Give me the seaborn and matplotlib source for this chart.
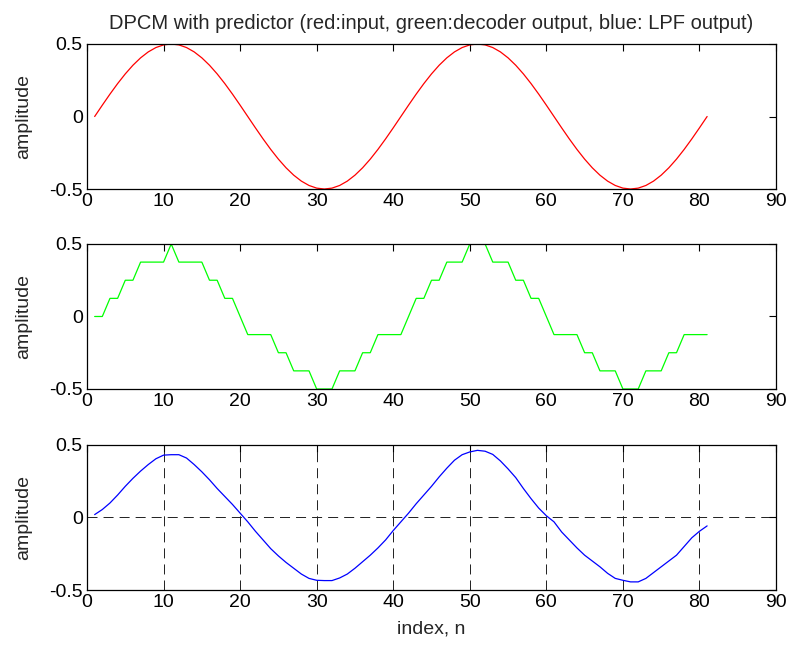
import matplotlib
matplotlib.use("Agg")
import matplotlib.pyplot as plt
import seaborn as sns
import pandas as pd

n = list(range(1, 82))

red_input = [
    0.0, 0.0782, 0.1545, 0.2270, 0.2939, 0.3536, 0.4045, 0.4455, 0.4755, 0.4938,
    0.5, 0.4938, 0.4755, 0.4455, 0.4045, 0.3536, 0.2939, 0.2270, 0.1545, 0.0782,
    0.0, -0.0782, -0.1545, -0.2270, -0.2939, -0.3536, -0.4045, -0.4455, -0.4755, -0.4938,
    -0.5, -0.4938, -0.4755, -0.4455, -0.4045, -0.3536, -0.2939, -0.2270, -0.1545, -0.0782,
    0.0, 0.0782, 0.1545, 0.2270, 0.2939, 0.3536, 0.4045, 0.4455, 0.4755, 0.4938,
    0.5, 0.4938, 0.4755, 0.4455, 0.4045, 0.3536, 0.2939, 0.2270, 0.1545, 0.0782,
    0.0, -0.0782, -0.1545, -0.2270, -0.2939, -0.3536, -0.4045, -0.4455, -0.4755, -0.4938,
    -0.5, -0.4938, -0.4755, -0.4455, -0.4045, -0.3536, -0.2939, -0.2270, -0.1545, -0.0782,
    0.0,
]

green_decoder = [
    0.0, 0.0, 0.125, 0.125, 0.25, 0.25, 0.375, 0.375, 0.375, 0.375,
    0.5, 0.375, 0.375, 0.375, 0.375, 0.25, 0.25, 0.125, 0.125, 0.0,
    -0.125, -0.125, -0.125, -0.125, -0.25, -0.25, -0.375, -0.375, -0.375, -0.5,
    -0.5, -0.5, -0.375, -0.375, -0.375, -0.25, -0.25, -0.125, -0.125, -0.125,
    -0.125, 0.0, 0.125, 0.125, 0.25, 0.25, 0.375, 0.375, 0.375, 0.5,
    0.5, 0.5, 0.375, 0.375, 0.375, 0.25, 0.25, 0.125, 0.125, 0.0,
    -0.125, -0.125, -0.125, -0.125, -0.25, -0.25, -0.375, -0.375, -0.375, -0.5,
    -0.5, -0.5, -0.375, -0.375, -0.375, -0.25, -0.25, -0.125, -0.125, -0.125,
    -0.125,
]

blue_lpf = [
    0.02, 0.055, 0.10, 0.155, 0.215, 0.27, 0.32, 0.365, 0.405, 0.43,
    0.433, 0.433, 0.41, 0.365, 0.315, 0.26, 0.20, 0.145, 0.09, 0.03,
    -0.03, -0.095, -0.155, -0.215, -0.265, -0.31, -0.35, -0.39, -0.42, -0.433,
    -0.435, -0.435, -0.417, -0.39, -0.35, -0.305, -0.26, -0.21, -0.155, -0.09,
    -0.03, 0.03, 0.095, 0.155, 0.215, 0.28, 0.34, 0.395, 0.433, 0.452,
    0.463, 0.457, 0.435, 0.39, 0.335, 0.275, 0.20, 0.13, 0.065, 0.012,
    -0.03, -0.10, -0.155, -0.21, -0.26, -0.30, -0.34, -0.385, -0.42, -0.433,
    -0.444, -0.444, -0.42, -0.38, -0.34, -0.30, -0.26, -0.20, -0.14, -0.095,
    -0.058,
]

xticks = [0, 10, 20, 30, 40, 50, 60, 70, 80, 90]
yticks = [-0.5, 0, 0.5]
ytick_labels = ["-0.5", "0", "0.5"]

title = "DPCM with predictor (red:input, green:decoder output, blue: LPF output)"

sns.set_style("white")
plt.rcParams["font.family"] = ["Liberation Sans", "DejaVu Sans"]
plt.rcParams["xtick.direction"] = "in"
plt.rcParams["ytick.direction"] = "in"

df = pd.DataFrame({"n": n, "red": red_input, "green": green_decoder, "blue": blue_lpf})

fig = plt.figure(figsize=(7.96, 6.48), dpi=100)
left, width, height = 0.1093, 0.8656, 0.2238
bottoms = [0.7083, 0.3997, 0.0895]
series = [("red", "#ff0000"), ("green", "#00ff00"), ("blue", "#0000ff")]
fs = 14

axes = []
for b, (col, color) in zip(bottoms, series):
    ax = fig.add_axes([left, b, width, height])
    sns.lineplot(data=df, x="n", y=col, color=color, linewidth=0.9, ax=ax)
    ax.set_xlim(0, 90)
    ax.set_ylim(-0.5, 0.5)
    ax.set_xticks(xticks)
    ax.set_yticks(yticks)
    ax.set_yticklabels(ytick_labels)
    ax.tick_params(axis="both", which="both", direction="in", length=5, width=0.8,
                   top=True, right=True, labelsize=fs, colors="black", pad=3)
    for s in ax.spines.values():
        s.set_visible(True)
        s.set_color("black")
        s.set_linewidth(0.9)
    ax.set_ylabel("amplitude", fontsize=fs, labelpad=12)
    ax.set_xlabel("")
    axes.append(ax)

axes[0].set_title(title, fontsize=14.5, pad=11)
axes[2].set_xlabel("index, n", fontsize=fs, labelpad=7)
axes[2].grid(True, color="#202020", linestyle=(0, (10.3, 6.2)), linewidth=0.7)
axes[2].set_axisbelow(True)

fig.savefig("out.png", dpi=100)
